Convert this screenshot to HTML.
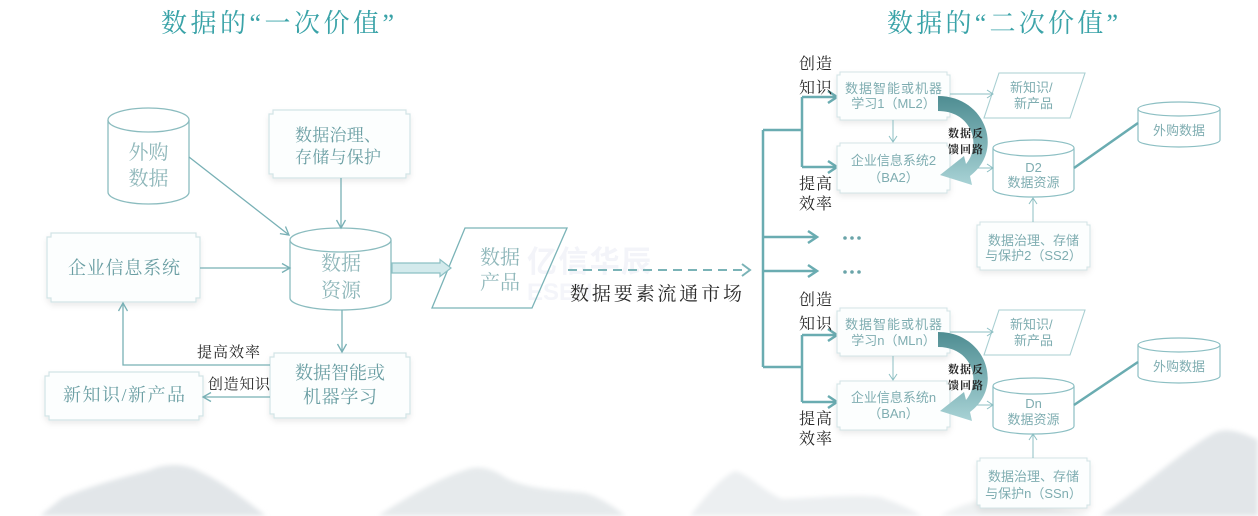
<!DOCTYPE html>
<html><head><meta charset="utf-8">
<style>
html,body{margin:0;padding:0;background:#fff;}
svg{display:block;}
.bt{font-family:"Liberation Serif","Noto Serif CJK SC",serif;fill:#6a9ea3;}
.lt{font-family:"Liberation Serif","Noto Serif CJK SC",serif;fill:#8fb7ba;}
.dk{font-family:"Liberation Serif","Noto Serif CJK SC",serif;fill:#2a2a2a;}
.st{font-family:"Liberation Sans","Noto Sans CJK SC",sans-serif;fill:#7fadb1;}
</style></head>
<body>
<svg width="1258" height="516" viewBox="0 0 1258 516" xmlns="http://www.w3.org/2000/svg">
<defs>
  <filter id="blur" x="-10%" y="-10%" width="120%" height="120%"><feGaussianBlur stdDeviation="2.5"/></filter>
  <filter id="sh" x="-10%" y="-10%" width="130%" height="140%">
    <feDropShadow dx="0" dy="3" stdDeviation="3" flood-color="#000" flood-opacity="0.08"/>
  </filter>
  <linearGradient id="fb" x1="0" y1="96" x2="0" y2="186" gradientUnits="userSpaceOnUse">
    <stop offset="0" stop-color="#4e8d92"/>
    <stop offset="1" stop-color="#a9d3d6"/>
  </linearGradient>
</defs>

<!-- mountains -->
<g filter="url(#blur)">
  <path d="M40,516 L62,498 C90,486 120,478 150,470 C165,463 186,463 201,472 C222,482 242,497 266,516 Z" fill="#e2e6e9"/>
  <path d="M378,516 C410,495 440,478 465,470 C478,465 492,468 506,478 C530,490 560,490 585,493 C602,498 615,508 626,516 Z" fill="#e6eaec"/>
  <path d="M690,516 C705,497 720,478 735,471 C750,475 762,490 782,499 C820,498 850,494 880,497 C900,504 912,510 922,516 Z" fill="#eceff1"/>
  <path d="M1100,516 C1140,490 1180,452 1214,433 C1226,427 1242,432 1258,440 L1258,516 Z" fill="#e2e6e9"/>
  <path d="M940,516 C960,505 980,498 1000,500 C1030,504 1060,508 1090,516 Z" fill="#eef1f2"/>
</g>

<!-- watermark -->
<text x="527" y="272" font-family="Liberation Sans, Noto Sans CJK SC, sans-serif" font-size="30" font-weight="bold" fill="#f3f4f9" textLength="124">亿信华辰</text>
<text x="527" y="300" font-family="Liberation Sans, sans-serif" font-size="24" font-weight="bold" fill="#f4f5fa">ESEN</text>

<!-- titles -->
<text x="161" y="32" font-family="Liberation Serif, Noto Serif CJK SC, serif" font-size="26" fill="#3aa3a8" textLength="233" lengthAdjust="spacing">数据的“一次价值”</text>
<text x="887" y="32" font-family="Liberation Serif, Noto Serif CJK SC, serif" font-size="26" fill="#3aa3a8" textLength="231" lengthAdjust="spacing">数据的“二次价值”</text>

<!-- ============ LEFT DIAGRAM ============ -->
<g fill="#fcfefe" stroke="#d2e4e6" stroke-width="1.2" filter="url(#sh)">
  <path d="M273,110 H406 V114 H410 V174 H406 V178 H273 V174 H269 V114 H273 Z"/>
  <path d="M51,233 H196 V237 H200 V298 H196 V302 H51 V298 H47 V237 H51 Z"/>
  <path d="M274,353 H406 V357 H410 V414 H406 V418 H274 V414 H270 V357 H274 Z"/>
  <path d="M49,372 H199 V376 H203 V416 H199 V420 H49 V416 H45 V376 H49 Z"/>
</g>

<g fill="#fff" stroke="#8bbcbf" stroke-width="1.3">
  <path d="M108,120 V192 A40.5,12 0 0 0 189,192 V120"/>
  <ellipse cx="148.5" cy="120" rx="40.5" ry="12"/>
  <path d="M290,240 V298 A50.5,12 0 0 0 391,298 V240"/>
  <ellipse cx="340.5" cy="240" rx="50.5" ry="12"/>
</g>

<path d="M465,228 L567,228 L532,308 L432,308 Z" fill="none" stroke="#7ab3b7" stroke-width="1.3"/>

<g fill="none" stroke="#78b0b5" stroke-width="1.3">
  <line x1="341" y1="178" x2="341" y2="228"/>
  <polyline points="336.5,220 341,228 345.5,220"/>
  <line x1="189" y1="157" x2="289" y2="235"/>
  <polyline points="279.9,233.6 289,235 285.5,226.5"/>
  <line x1="200" y1="268" x2="290" y2="268"/>
  <polyline points="282,263.5 290,268 282,272.5"/>
  <line x1="342" y1="310" x2="342" y2="352"/>
  <polyline points="337.5,344 342,352 346.5,344"/>
  <polyline points="270,365 123,365 123,303"/>
  <polyline points="118.5,311 123,303 127.5,311"/>
  <line x1="270" y1="397" x2="203" y2="397"/>
  <polyline points="211,392.5 203,397 211,401.5"/>
</g>
<path d="M392,263 L440,263 L440,259.5 L451,268 L440,276.5 L440,273 L392,273 Z" fill="#d3eaec" stroke="#8cc0c4" stroke-width="1.2"/>
<line x1="568" y1="270" x2="748" y2="270" stroke="#7ab3b7" stroke-width="2" stroke-dasharray="9,6"/>
<polyline points="742,264 750,270 742,276" fill="none" stroke="#7ab3b7" stroke-width="2"/>

<text class="lt" x="148.5" y="159" font-size="20" text-anchor="middle">外购</text>
<text class="lt" x="148.5" y="185" font-size="20" text-anchor="middle">数据</text>
<text class="bt" x="295" y="141" font-size="17" textLength="86">数据治理、</text>
<text class="bt" x="295" y="163" font-size="17" textLength="86">存储与保护</text>
<text class="lt" x="341" y="270" font-size="20" text-anchor="middle">数据</text>
<text class="lt" x="341" y="297" font-size="20" text-anchor="middle">资源</text>
<text class="bt" x="68" y="274" font-size="18" textLength="112">企业信息系统</text>
<text class="lt" x="480" y="264" font-size="20" textLength="40">数据</text>
<text class="lt" x="480" y="289" font-size="20" textLength="40">产品</text>
<text class="dk" x="570" y="300" font-size="19" textLength="172">数据要素流通市场</text>
<text class="bt" x="295" y="379" font-size="18" textLength="90">数据智能或</text>
<text class="bt" x="303" y="403" font-size="18" textLength="74">机器学习</text>
<text class="dk" x="197" y="357" font-size="15" textLength="63">提高效率</text>
<text class="dk" x="208" y="389" font-size="15" textLength="62">创造知识</text>
<text class="bt" x="63" y="401" font-size="18" textLength="122">新知识/新产品</text>

<!-- ============ RIGHT DIAGRAM ============ -->
<g fill="none" stroke="#6aacb1" stroke-width="2.5">
  <line x1="763" y1="130" x2="763" y2="367"/>
  <line x1="763" y1="130" x2="802" y2="130"/>
  <line x1="763" y1="367" x2="802" y2="367"/>
  <line x1="802" y1="97" x2="802" y2="167"/>
  <line x1="802" y1="335" x2="802" y2="402"/>
  <line x1="802" y1="97" x2="835" y2="97"/>
  <line x1="802" y1="167" x2="835" y2="167"/>
  <line x1="802" y1="335" x2="835" y2="335"/>
  <line x1="802" y1="402" x2="835" y2="402"/>
  <line x1="763" y1="237" x2="815" y2="237"/>
  <line x1="763" y1="271" x2="815" y2="271"/>
  <polyline points="828,91 837,97 828,103"/>
  <polyline points="828,161 837,167 828,173"/>
  <polyline points="828,329 837,335 828,341"/>
  <polyline points="828,396 837,402 828,408"/>
  <polyline points="808,231 817,237 808,243"/>
  <polyline points="808,265 817,271 808,277"/>
</g>
<g fill="#6aa4a9">
  <circle cx="845" cy="238" r="1.8"/><circle cx="852" cy="238" r="1.8"/><circle cx="859" cy="238" r="1.8"/>
  <circle cx="845" cy="272" r="1.8"/><circle cx="852" cy="272" r="1.8"/><circle cx="859" cy="272" r="1.8"/>
</g>
<g font-size="16">
  <text class="dk" x="799" y="69" textLength="33">创造</text>
  <text class="dk" x="799" y="93" textLength="33">知识</text>
  <text class="dk" x="799" y="189" textLength="33">提高</text>
  <text class="dk" x="799" y="209" textLength="33">效率</text>
  <text class="dk" x="799" y="305" textLength="33">创造</text>
  <text class="dk" x="799" y="329" textLength="33">知识</text>
  <text class="dk" x="799" y="424" textLength="33">提高</text>
  <text class="dk" x="799" y="444" textLength="33">效率</text>
</g>

<g>
  <g fill="#fcfefe" stroke="#d3e4e6" stroke-width="1.1" filter="url(#sh)">
    <path d="M840,72 H947 V75 H950 V117 H947 V120 H840 V117 H837 V75 H840 Z"/>
    <path d="M840,143 H947 V146 H950 V190 H947 V193 H840 V190 H837 V146 H840 Z"/>
    <path d="M980,222 H1087 V225 H1090 V267 H1087 V270 H980 V267 H977 V225 H980 Z"/>
  </g>
  <path d="M999,73 L1085,73 L1070,118 L984,118 Z" fill="#fff" stroke="#a9cfd2" stroke-width="1.1"/>
  <g fill="#fff" stroke="#8cbfc3" stroke-width="1.2">
    <path d="M993,148 V189 A40.5,8 0 0 0 1074,189 V148"/>
    <ellipse cx="1033.5" cy="148" rx="40.5" ry="8"/>
    <path d="M1138,109 V140 A41,7 0 0 0 1220,140 V109"/>
    <ellipse cx="1179" cy="109" rx="41" ry="7"/>
  </g>
  <line x1="1074" y1="168" x2="1138" y2="123" stroke="#6aacb1" stroke-width="2.5"/>
  <g fill="none" stroke="#8cbfc3" stroke-width="1">
    <line x1="893" y1="120" x2="893" y2="142"/><polyline points="889,136 893,142 897,136"/>
    <line x1="950" y1="94" x2="993" y2="94"/><polyline points="987,90 993,94 987,98"/>
    <line x1="950" y1="168" x2="993" y2="168"/><polyline points="987,164 993,168 987,172"/>
    <line x1="1033" y1="222" x2="1033" y2="198"/><polyline points="1029,204 1033,198 1037,204"/>
  </g>
  <path d="M938,96 C985,96 1005,150 970,176 L972,185 L940,175 L964,156 L966,164 C982,145 972,111 938,111 Z" fill="url(#fb)"/>
  <text x="948" y="137" font-family="Liberation Serif, Noto Serif CJK SC, serif" font-size="11" font-weight="bold" fill="#222" textLength="35">数据反</text>
  <text x="948" y="153" font-family="Liberation Serif, Noto Serif CJK SC, serif" font-size="11" font-weight="bold" fill="#222" textLength="35">馈回路</text>
  <text class="st" x="845" y="93" font-size="13" textLength="97">数据智能或机器</text>
  <text class="st" x="893.5" y="108" font-size="13" text-anchor="middle">学习1（ML2）</text>
  <text class="st" x="893.5" y="165" font-size="13" text-anchor="middle">企业信息系统2</text>
  <text class="st" x="893.5" y="182" font-size="13" text-anchor="middle">（BA2）</text>
  <text class="st" x="1010" y="92" font-size="13">新知识/</text>
  <text class="st" x="1014" y="108" font-size="13">新产品</text>
  <text class="st" x="1033.5" y="172" font-size="13" text-anchor="middle">D2</text>
  <text class="st" x="1033.5" y="187" font-size="13" text-anchor="middle">数据资源</text>
  <text class="st" x="1179" y="135" font-size="13" text-anchor="middle">外购数据</text>
  <text class="st" x="1033.5" y="245" font-size="13" text-anchor="middle">数据治理、存储</text>
  <text class="st" x="1033.5" y="260" font-size="13" text-anchor="middle">与保护2（SS2）</text>
</g>

<g transform="translate(0,236)">
  <g fill="#fcfefe" stroke="#d3e4e6" stroke-width="1.1" filter="url(#sh)">
    <path d="M840,72 H947 V75 H950 V117 H947 V120 H840 V117 H837 V75 H840 Z"/>
    <path d="M840,145 H947 V148 H950 V191 H947 V194 H840 V191 H837 V148 H840 Z"/>
    <path d="M980,222 H1087 V225 H1090 V269 H1087 V272 H980 V269 H977 V225 H980 Z"/>
  </g>
  <path d="M999,74 L1085,74 L1070,119 L984,119 Z" fill="#fff" stroke="#a9cfd2" stroke-width="1.1"/>
  <g fill="#fff" stroke="#8cbfc3" stroke-width="1.2">
    <path d="M993,150 V190 A40.5,8 0 0 0 1074,190 V150"/>
    <ellipse cx="1033.5" cy="150" rx="40.5" ry="8"/>
    <path d="M1138,109 V140 A41,7 0 0 0 1220,140 V109"/>
    <ellipse cx="1179" cy="109" rx="41" ry="7"/>
  </g>
  <line x1="1074" y1="169" x2="1138" y2="126" stroke="#6aacb1" stroke-width="2.5"/>
  <g fill="none" stroke="#8cbfc3" stroke-width="1">
    <line x1="893" y1="120" x2="893" y2="144"/><polyline points="889,138 893,144 897,138"/>
    <line x1="950" y1="96" x2="993" y2="96"/><polyline points="987,92 993,96 987,100"/>
    <line x1="950" y1="169" x2="993" y2="169"/><polyline points="987,165 993,169 987,173"/>
    <line x1="1033" y1="222" x2="1033" y2="198"/><polyline points="1029,204 1033,198 1037,204"/>
  </g>
  <path d="M938,96 C985,96 1005,150 970,176 L972,185 L940,175 L964,156 L966,164 C982,145 972,111 938,111 Z" fill="url(#fb)"/>
  <text x="948" y="137" font-family="Liberation Serif, Noto Serif CJK SC, serif" font-size="11" font-weight="bold" fill="#222" textLength="35">数据反</text>
  <text x="948" y="153" font-family="Liberation Serif, Noto Serif CJK SC, serif" font-size="11" font-weight="bold" fill="#222" textLength="35">馈回路</text>
  <text class="st" x="845" y="93" font-size="13" textLength="97">数据智能或机器</text>
  <text class="st" x="893.5" y="109" font-size="13" text-anchor="middle">学习n（MLn）</text>
  <text class="st" x="893.5" y="166" font-size="13" text-anchor="middle">企业信息系统n</text>
  <text class="st" x="893.5" y="182" font-size="13" text-anchor="middle">（BAn）</text>
  <text class="st" x="1010" y="93" font-size="13">新知识/</text>
  <text class="st" x="1014" y="109" font-size="13">新产品</text>
  <text class="st" x="1033.5" y="172" font-size="13" text-anchor="middle">Dn</text>
  <text class="st" x="1033.5" y="188" font-size="13" text-anchor="middle">数据资源</text>
  <text class="st" x="1179" y="135" font-size="13" text-anchor="middle">外购数据</text>
  <text class="st" x="1033.5" y="245" font-size="13" text-anchor="middle">数据治理、存储</text>
  <text class="st" x="1033.5" y="262" font-size="13" text-anchor="middle">与保护n（SSn）</text>
</g>
</svg>
</body></html>
